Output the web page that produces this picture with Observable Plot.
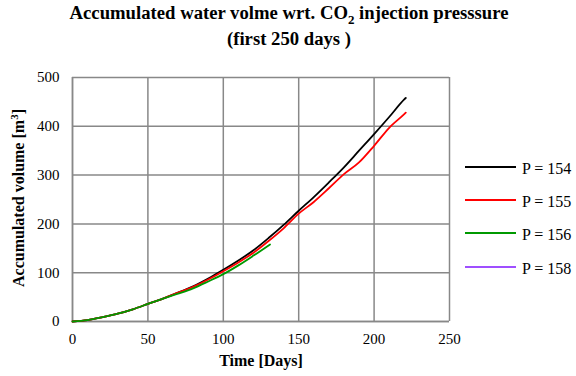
<!DOCTYPE html>
<html>
<head>
<meta charset="utf-8">
<script src="https://cdn.jsdelivr.net/npm/d3@7"></script>
<script src="https://cdn.jsdelivr.net/npm/@observablehq/plot@0.6"></script>
<style>
  html, body { margin: 0; padding: 0; background: #fff; }
  #wrap { position: relative; width: 576px; height: 376px; font-family: "Liberation Serif", "Times New Roman", serif; color: #000; }
  #wrap svg { position: absolute; left: 0; top: 0; }
  #wrap svg text { font-family: "Liberation Serif", "Times New Roman", serif; }
  .title { position: absolute; left: 0; width: 578px; text-align: center; font-weight: bold; font-size: 18.7px; line-height: 26px; top: 0px; font-family: "Liberation Serif", serif; }
  .ylab { position: absolute; left: 19px; top: 198px; transform: translate(-50%, -50%) rotate(-90deg); font-weight: bold; font-size: 16px; white-space: nowrap; font-family: "Liberation Serif", serif; }
  .xlab { position: absolute; left: 261px; top: 361px; transform: translate(-50%, -50%); font-weight: bold; font-size: 16px; white-space: nowrap; font-family: "Liberation Serif", serif; }
  .legend { position: absolute; left: 465px; top: 0; }
  .item { position: absolute; left: 0; width: 111px; height: 20px; white-space: nowrap; font-size: 16px; font-family: "Liberation Serif", serif; }
  .item .sw { position: absolute; left: 0; top: 9px; width: 51px; height: 2px; }
  .item .tx { position: absolute; left: 57px; top: 2px; line-height: 20px; }
</style>
</head>
<body>
<div id="wrap">
  <div class="title">Accumulated water volme wrt. CO<sub style="font-size:13px;line-height:0">2</sub> injection presssure<br>(first 250 days )</div>
  <div class="ylab">Accumulated volume [m<sup style="font-size:11px;line-height:0">3</sup>]</div>
  <div class="xlab">Time [Days]</div>
  <div class="legend" id="legend"></div>
</div>
<script>
// Axis ticks
const xTicks = [0, 50, 100, 150, 200, 250];
const yTicks = [0, 100, 200, 300, 400, 500];

// Series: injection pressure, colour
const pressures = [154, 155, 156, 158];
const colors = ["#000000", "#ff0000", "#009900", "#9f4fff"];

// Accumulated volume [m3] against time [days] for each pressure
const days154 = [0, 10, 20, 30, 40, 50, 60, 70, 80, 90, 100, 110, 120, 130, 140, 150, 160, 170, 180, 190, 200, 210, 220, 221];
const vol154  = [0, 3, 9, 16, 25, 36, 47, 59, 72, 88, 106, 125, 146, 171, 198, 227, 255, 285, 316, 350, 384, 419, 455, 458];

const days155 = [0, 10, 20, 30, 40, 50, 60, 70, 80, 90, 100, 110, 120, 130, 140, 150, 160, 170, 180, 190, 200, 210, 220, 221];
const vol155  = [0, 3, 9, 16, 25, 36, 47, 59, 71, 86, 103, 121, 141, 165, 191, 221, 245, 273, 302, 326, 360, 397, 425, 428];

const days156 = [0, 10, 20, 30, 40, 50, 60, 70, 80, 90, 100, 110, 120, 131];
const vol156  = [0, 3, 9, 16, 25, 36, 47, 57, 68, 82, 97, 115, 135, 158];

const days158 = [];
const vol158  = [];

const seriesDays = [days154, days155, days156, days158];
const seriesVol = [vol154, vol155, vol156, vol158];

const rows = [];
pressures.forEach((p, i) => {
  seriesDays[i].forEach((d, j) => rows.push({P: p, day: d, vol: seriesVol[i][j]}));
});

const gridStyle = {stroke: "#888888", strokeOpacity: 1, strokeWidth: 1.5};

const chart = Plot.plot({
  width: 576,
  height: 376,
  marginLeft: 72,
  marginRight: 127,
  marginTop: 77,
  marginBottom: 55,
  style: {fontFamily: "\"Liberation Serif\", serif", fontSize: "15px", color: "#000", background: "transparent"},
  x: {domain: [0, 250], label: null},
  y: {domain: [0, 500], label: null},
  color: {domain: pressures, range: colors},
  marks: [
    Plot.gridX(xTicks, gridStyle),
    Plot.gridY(yTicks, gridStyle),
    Plot.ruleX([0], gridStyle),
    Plot.ruleY([0], gridStyle),
    Plot.axisX(xTicks, {tickSize: 0, tickPadding: 12, label: null, fontSize: 15}),
    Plot.axisY(yTicks, {tickSize: 0, tickPadding: 13, label: null, fontSize: 15}),
    Plot.line(rows, {x: "day", y: "vol", z: "P", stroke: "P", strokeWidth: 1.8, curve: "monotone-x"})
  ]
});
document.getElementById("wrap").prepend(chart);

// Legend entries
const legendTops = [157, 190, 223, 257];
const legend = document.getElementById("legend");
pressures.forEach((p, i) => {
  const item = document.createElement("div");
  item.className = "item";
  item.style.top = legendTops[i] + "px";
  item.innerHTML = `<div class="sw" style="background:${colors[i]}"></div><div class="tx">P = ${p}</div>`;
  legend.appendChild(item);
});
</script>
</body>
</html>
